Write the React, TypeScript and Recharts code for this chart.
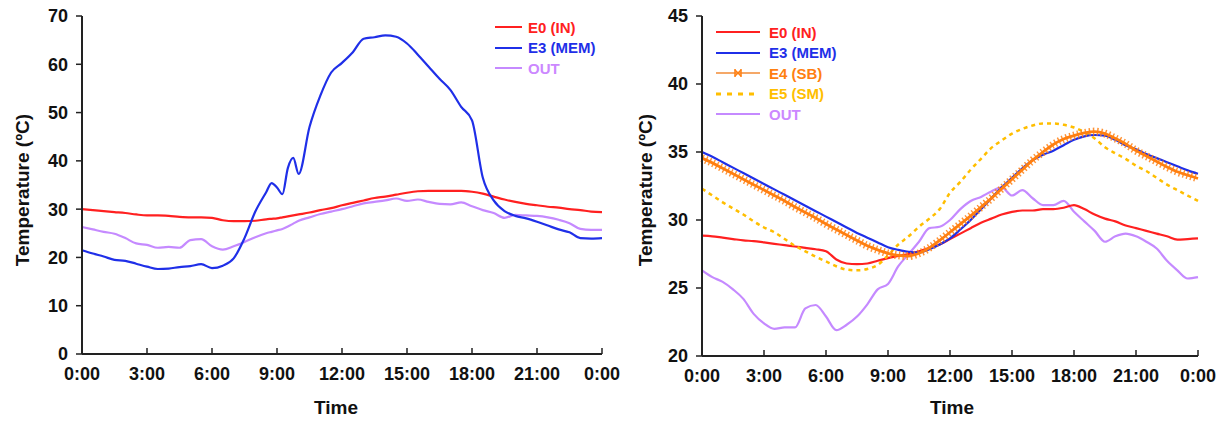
import { Line, LineChart, XAxis, YAxis } from 'recharts';

// left panel: E0, E3, OUT
const leftHours = [0, 0.5, 1, 1.5, 2, 2.5, 3, 3.5, 4, 4.5, 5, 5.5, 6, 6.5, 7, 7.5, 8, 8.5, 8.75, 9, 9.25, 9.5, 9.75, 10, 10.5, 11, 11.5, 12, 12.5, 13, 13.5, 14, 14.5, 15, 15.5, 16, 16.5, 17, 17.5, 18, 18.5, 19, 19.5, 20, 20.5, 21, 21.5, 22, 22.5, 23, 23.5, 24];
const leftIn = [30.0, 29.8, 29.6, 29.4, 29.2, 28.9, 28.7, 28.7, 28.6, 28.4, 28.3, 28.3, 28.2, 27.7, 27.5, 27.5, 27.6, 27.9, 28.0, 28.1, 28.3, 28.5, 28.7, 28.9, 29.3, 29.8, 30.2, 30.8, 31.3, 31.8, 32.3, 32.6, 33.0, 33.4, 33.7, 33.8, 33.8, 33.8, 33.8, 33.6, 33.2, 32.6, 32.0, 31.5, 31.1, 30.8, 30.5, 30.3, 30.0, 29.8, 29.5, 29.4];
const leftMem = [21.5, 20.8, 20.2, 19.5, 19.3, 18.7, 18.1, 17.6, 17.7, 18.0, 18.2, 18.6, 17.8, 18.3, 19.8, 24.0, 29.5, 33.5, 35.4, 34.5, 33.1, 38.5, 40.6, 37.3, 47.0, 53.5, 58.3, 60.3, 62.5, 65.3, 65.6, 66.0, 65.7, 64.3, 62.0, 59.5, 57.0, 54.7, 51.2, 48.4, 36.5, 31.8, 29.6, 28.6, 28.1, 27.4, 26.6, 25.8, 25.2, 24.0, 23.9, 24.0];
const leftOut = [26.3, 25.8, 25.3, 24.9, 24.0, 22.9, 22.6, 22.0, 22.2, 22.0, 23.6, 23.8, 22.3, 21.6, 22.3, 23.2, 24.2, 25.0, 25.3, 25.6, 25.9, 26.4, 27.0, 27.6, 28.3, 29.0, 29.5, 30.0, 30.6, 31.2, 31.5, 31.8, 32.2, 31.7, 32.0, 31.5, 31.1, 31.0, 31.4, 30.6, 29.8, 29.2, 28.2, 28.8, 28.7, 28.6, 28.3, 27.8, 27.1, 25.9, 25.7, 25.7];

// right panel: E0, E3, E4, E5, OUT
const rightHours = [0, 0.5, 1, 1.5, 2, 2.5, 3, 3.5, 4, 4.5, 5, 5.5, 6, 6.5, 7, 7.5, 8, 8.5, 9, 9.5, 10, 10.5, 11, 11.5, 12, 12.5, 13, 13.5, 14, 14.5, 15, 15.5, 16, 16.5, 17, 17.5, 18, 18.5, 19, 19.5, 20, 20.5, 21, 21.5, 22, 22.5, 23, 23.5, 24];
const rightIn = [28.85, 28.8, 28.7, 28.6, 28.5, 28.45, 28.35, 28.25, 28.15, 28.05, 27.95, 27.85, 27.7, 27.1, 26.8, 26.75, 26.8, 27.0, 27.2, 27.35, 27.5, 27.7, 27.95, 28.2, 28.6, 29.0, 29.4, 29.8, 30.1, 30.4, 30.6, 30.7, 30.7, 30.8, 30.8, 30.9, 31.1, 30.8, 30.4, 30.1, 29.9, 29.6, 29.4, 29.2, 29.0, 28.8, 28.55, 28.6, 28.65];
const rightMem = [35.0, 34.65, 34.25, 33.85, 33.45, 33.05, 32.65, 32.25, 31.85, 31.45, 31.05, 30.65, 30.25, 29.85, 29.45, 29.05, 28.7, 28.35, 28.0, 27.8, 27.65, 27.6, 27.85, 28.2, 28.65, 29.3, 30.0, 30.8, 31.6, 32.4, 33.1, 33.8, 34.4, 34.8, 35.1, 35.5, 35.9, 36.15, 36.25, 36.2, 35.9, 35.5, 35.2, 34.85, 34.55, 34.25, 33.95, 33.65, 33.4];
const rightSb = [34.55, 34.2, 33.8, 33.4, 33.0, 32.6, 32.2, 31.8, 31.4, 30.95, 30.55, 30.15, 29.7, 29.3, 28.9, 28.5, 28.1, 27.8, 27.55, 27.4, 27.35, 27.55, 27.95, 28.5, 29.1, 29.7, 30.3, 30.95, 31.6, 32.3, 33.0, 33.7, 34.4, 35.0, 35.55, 35.95, 36.2, 36.4, 36.5, 36.35, 36.0, 35.6, 35.1, 34.7, 34.3, 33.9, 33.55, 33.3, 33.05];
const rightSm = [32.3, 31.8, 31.3, 30.85, 30.4, 29.9, 29.45, 29.1, 28.6, 28.1, 27.7, 27.3, 26.95, 26.6, 26.35, 26.3, 26.4, 26.7, 27.4, 28.2, 28.8, 29.5, 30.1, 30.8, 32.0, 32.8, 33.7, 34.5, 35.3, 35.85, 36.35, 36.7, 36.95, 37.1, 37.1, 37.0, 36.8, 36.45, 36.0, 35.35, 34.9, 34.5, 34.0, 33.6, 33.1, 32.6, 32.2, 31.8, 31.4];
const rightOut = [26.3, 25.8, 25.45, 24.9, 24.2, 23.1, 22.4, 22.0, 22.1, 22.1, 23.5, 23.75, 22.9, 21.9, 22.3, 22.9, 23.8, 24.9, 25.3, 26.6, 27.5, 28.4, 29.4, 29.5, 30.0, 30.8, 31.4, 31.7, 32.1, 32.4, 31.8, 32.2, 31.6, 31.1, 31.1, 31.4, 30.6, 29.9, 29.2, 28.4, 28.8, 29.0, 28.8, 28.4, 27.9, 27.0, 26.3, 25.7, 25.8];

const hourTicks = [0, 3, 6, 9, 12, 15, 18, 21, 24];
const leftTicks = [0, 10, 20, 30, 40, 50, 60, 70];
const rightTicks = [20, 25, 30, 35, 40, 45];

const leftData = leftHours.map((h, i) => ({ h, e0: leftIn[i], e3: leftMem[i], out: leftOut[i] }));
const rightData = rightHours.map((h, i) => ({
  h, e0: rightIn[i], e3: rightMem[i], e4: rightSb[i], e5: rightSm[i], out: rightOut[i],
}));

const font = 'Arial, "Liberation Sans", sans-serif';
const RED = '#ff2020';
const BLUE = '#1f2fe8';
const PURPLE = '#c58aff';
const ORANGE = '#ff7f10';
const GOLD = '#ffbe00';
const AXIS = '#222';

const tickStyle = { fontSize: 18, fontWeight: 700, fill: '#111', fontFamily: font };
const fmtHour = (h: number) => `${h % 24}:00`;

function xTitle(dx: number) {
  return ({ viewBox }: any) => (
    <text x={viewBox.x + viewBox.width / 2 + dx} y={414} textAnchor="middle"
      style={{ fontSize: 19, fontWeight: 700, fontFamily: font, fill: '#111' }}>Time</text>
  );
}

function yTitle(cx: number) {
  return () => {
    const cy = 190;
    return (
      <text x={cx} y={cy} textAnchor="middle" dominantBaseline="central" transform={`rotate(-90 ${cx} ${cy})`}
        style={{ fontSize: 19, fontWeight: 700, fontFamily: font, fill: '#111' }}>Temperature (ºC)</text>
    );
  };
}

type Item = { name: string; color: string; text: string; kind: 'line' | 'dash' | 'marker' };

function LegendBox({ x, y, len, gap, items }: { x: number; y: number; len: number; gap: number; items: Item[] }) {
  return (
    <div style={{ position: 'absolute', left: x, top: y, fontFamily: font, fontWeight: 700, fontSize: 15 }}>
      {items.map((it) => (
        <div key={it.name} style={{ display: 'flex', alignItems: 'center', height: 20.5 }}>
          <svg width={len} height={12}>
            {it.kind === 'dash' ? (
              <line x1={0} x2={len} y1={6} y2={6} stroke={it.color} strokeWidth={3} strokeDasharray="5 6" />
            ) : (
              <line x1={0} x2={len} y1={6} y2={6} stroke={it.color} strokeWidth={2} />
            )}
            {it.kind === 'marker' && (
              <g stroke={ORANGE} strokeWidth={1.5}>
                <line x1={len / 2 - 3} x2={len / 2 + 3} y1={3} y2={9} />
                <line x1={len / 2 - 3} x2={len / 2 + 3} y1={9} y2={3} />
                <line x1={len / 2 - 3} x2={len / 2 - 3} y1={2} y2={10} />
                <line x1={len / 2 + 3} x2={len / 2 + 3} y1={2} y2={10} />
              </g>
            )}
          </svg>
          <span style={{ marginLeft: gap, color: it.text, lineHeight: '15px' }}>{it.name}</span>
        </div>
      ))}
    </div>
  );
}

const frame = { stroke: AXIS, strokeWidth: 2 };

export default function App() {
  return (
    <div style={{ position: 'absolute', left: 0, top: 0, width: 1222, height: 421, background: '#fff' }}>
      <div style={{ position: 'absolute', left: 0, top: 0 }}>
        <LineChart width={628} height={421} data={leftData} margin={{ top: 16, right: 26, bottom: 0, left: 0 }}>
          <XAxis dataKey="h" type="number" domain={[0, 24]} ticks={hourTicks} tickFormatter={fmtHour}
            height={67} tickSize={-6} tickMargin={19} tick={tickStyle} axisLine={frame}
            tickLine={{ stroke: AXIS, strokeWidth: 1.5 }} interval={0} label={{ content: xTitle(-6) }} />
          <XAxis xAxisId="top" orientation="top" type="number" domain={[0, 24]} height={0} tick={false}
            tickLine={false} axisLine={frame} />
          <YAxis type="number" domain={[0, 70]} ticks={leftTicks} width={82} tickSize={6} tickMargin={8}
            tick={tickStyle} axisLine={frame} tickLine={{ stroke: AXIS, strokeWidth: 1.5 }} interval={0}
            label={{ content: yTitle(22) }} />
          <YAxis yAxisId="r" orientation="right" width={0} tick={false} tickLine={false} axisLine={frame} />
          <Line dataKey="e0" stroke={RED} strokeWidth={2.2} dot={false} type="monotone" isAnimationActive={false} />
          <Line dataKey="out" stroke={PURPLE} strokeWidth={2.2} dot={false} type="monotone" isAnimationActive={false} />
          <Line dataKey="e3" stroke={BLUE} strokeWidth={2.2} dot={false} type="monotone" isAnimationActive={false} />
        </LineChart>
      </div>
      <div style={{ position: 'absolute', left: 628, top: 0 }}>
        <LineChart width={594} height={421} data={rightData} margin={{ top: 16, right: 24, bottom: 0, left: 0 }}>
          <XAxis dataKey="h" type="number" domain={[0, 24]} ticks={hourTicks} tickFormatter={fmtHour}
            height={65} tickSize={-6} tickMargin={19} tick={tickStyle} axisLine={frame}
            tickLine={{ stroke: AXIS, strokeWidth: 1.5 }} interval={0} label={{ content: xTitle(2) }} />
          <XAxis xAxisId="top" orientation="top" type="number" domain={[0, 24]} height={0} tick={false}
            tickLine={false} axisLine={frame} />
          <YAxis type="number" domain={[20, 45]} ticks={rightTicks} width={74} tickSize={6} tickMargin={8}
            tick={tickStyle} axisLine={frame} tickLine={{ stroke: AXIS, strokeWidth: 1.5 }} interval={0}
            label={{ content: yTitle(17) }} />
          <YAxis yAxisId="r" orientation="right" width={0} tick={false} tickLine={false} axisLine={frame} />
          <Line dataKey="out" stroke={PURPLE} strokeWidth={2.2} dot={false} type="monotone" isAnimationActive={false} />
          <Line dataKey="e0" stroke={RED} strokeWidth={2.2} dot={false} type="monotone" isAnimationActive={false} />
          <Line dataKey="e5" stroke={GOLD} strokeWidth={2.5} strokeDasharray="4 4" dot={false} type="monotone" isAnimationActive={false} />
          <Line dataKey="e3" stroke={BLUE} strokeWidth={2.2} dot={false} type="monotone" isAnimationActive={false} />
          <Line dataKey="e4" stroke={ORANGE} strokeWidth={8} strokeDasharray="1.4 2.6" strokeOpacity={0.85} dot={false}
            type="monotone" legendType="none" isAnimationActive={false} />
          <Line dataKey="e4" stroke={ORANGE} strokeWidth={2.8} dot={false} type="monotone" isAnimationActive={false} />
        </LineChart>
      </div>
      <LegendBox x={495} y={17} len={27} gap={6} items={[
        { name: 'E0 (IN)', color: RED, text: RED, kind: 'line' },
        { name: 'E3 (MEM)', color: BLUE, text: BLUE, kind: 'line' },
        { name: 'OUT', color: PURPLE, text: '#cc88ff', kind: 'line' },
      ]} />
      <LegendBox x={716} y={22} len={44} gap={9} items={[
        { name: 'E0 (IN)', color: RED, text: RED, kind: 'line' },
        { name: 'E3 (MEM)', color: BLUE, text: BLUE, kind: 'line' },
        { name: 'E4 (SB)', color: '#f5a868', text: ORANGE, kind: 'marker' },
        { name: 'E5 (SM)', color: GOLD, text: GOLD, kind: 'dash' },
        { name: 'OUT', color: PURPLE, text: '#cc88ff', kind: 'line' },
      ]} />
    </div>
  );
}
